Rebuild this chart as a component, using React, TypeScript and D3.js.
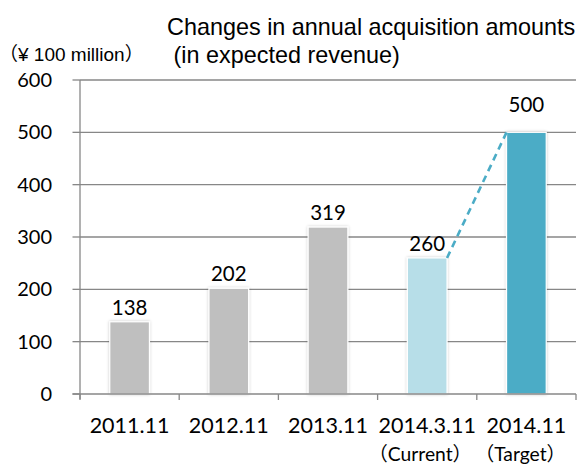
import React from "react";
import * as d3 from "d3";

const categories = ["2011.11", "2012.11", "2013.11", "2014.3.11", "2014.11"];
const subLabels = ["", "", "", "（Current）", "（Target）"];
const values = [138, 202, 319, 260, 500];
const barColors = ["#BFBFBF", "#BFBFBF", "#BFBFBF", "#B7DEE8", "#4BACC6"];
const yTicks = [0, 100, 200, 300, 400, 500, 600];
const titleLines = ["Changes in annual acquisition amounts", " (in expected revenue)"];
const unitLabel = "（¥ 100 million）";

const W = 585;
const H = 465;
const left = 80;
const right = 576;
const top = 80;
const bottom = 394;
const gridColor = "#878787";
const numFont = "Lato, 'Noto Sans CJK JP', sans-serif";
const textFont = "'Liberation Sans', Arial, 'Noto Sans CJK JP', sans-serif";

export default function App() {
  const x = d3
    .scaleBand<string>()
    .domain(categories)
    .range([left, right])
    .paddingInner(0.6)
    .paddingOuter(0.3);
  const y = d3.scaleLinear().domain([0, 600]).range([bottom, top]);
  const bw = x.bandwidth();

  const cur = categories[3];
  const tgt = categories[4];
  const lineGen = d3.line<[number, number]>();
  const connector = lineGen([
    [(x(cur) as number) + bw, y(values[3])],
    [x(tgt) as number, y(values[4])],
  ]);

  const boundaries = d3.range(categories.length + 1).map((i) => left + (i * (right - left)) / categories.length);
  const subIdx = subLabels.map((s, i) => i).filter((i) => subLabels[i]);

  return (
    <div style={{ position: "fixed", left: 0, top: 0 }}>
      <svg width={W} height={H} style={{ display: "block", background: "#fff" }}>
        <defs>
          <filter id="sh" x="-30%" y="-10%" width="160%" height="120%">
            <feDropShadow dx="0" dy="0" stdDeviation="1.6" floodColor="#000" floodOpacity="0.22" />
          </filter>
        </defs>
        <text x={167} y={35} fontFamily={textFont} fontSize={23.4} fill="#000">
          {titleLines[0]}
        </text>
        <text x={167} y={63} fontFamily={textFont} fontSize={23.4} fill="#000" style={{ whiteSpace: "pre" }}>
          {titleLines[1]}
        </text>
        <text x={-1} y={61} fontFamily={textFont} fontSize={19} fill="#000">
          {unitLabel}
        </text>

        {yTicks.map((t) => (
          <g key={t}>
            {t > 0 && <line x1={left} x2={right} y1={y(t)} y2={y(t)} stroke={gridColor} strokeWidth={1.3} />}
            <line x1={left - 7.5} x2={left} y1={y(t)} y2={y(t)} stroke={gridColor} strokeWidth={1.3} />
            <text x={52} y={y(t) + 7} textAnchor="end" fontFamily={numFont} fontSize={20} fill="#000">
              {t}
            </text>
          </g>
        ))}

        {categories.map((c, i) => (
          <rect
            key={c}
            x={x(c)}
            y={y(values[i])}
            width={bw}
            height={bottom - y(values[i])}
            fill={barColors[i]}
            stroke="#fff"
            strokeWidth={1.2}
            filter="url(#sh)"
          />
        ))}

        <path d={connector || ""} fill="none" stroke="#4BACC6" strokeWidth={2.6} strokeDasharray="7,5" />

        <line x1={left} x2={left} y1={top} y2={bottom + 5} stroke={gridColor} strokeWidth={1.3} />
        <line x1={left - 7.5} x2={right} y1={bottom} y2={bottom} stroke={gridColor} strokeWidth={1.3} />
        {boundaries.map((b, i) => (
          <line key={i} x1={b} x2={b} y1={bottom} y2={bottom + 6} stroke={gridColor} strokeWidth={1.3} />
        ))}

        {categories.map((c, i) => (
          <text
            key={c}
            x={(x(c) as number) + bw / 2}
            y={y(values[i]) - (i === categories.length - 1 ? 20 : 7)}
            textAnchor="middle"
            fontFamily={numFont}
            fontSize={20.5}
            fill="#000"
          >
            {values[i]}
          </text>
        ))}

        {categories.map((c) => (
          <text
            key={c}
            x={(x(c) as number) + bw / 2}
            y={433}
            textAnchor="middle"
            fontFamily={numFont}
            fontSize={21.5}
            fill="#000"
          >
            {c}
          </text>
        ))}
        {subIdx.map((i) => (
          <text
            key={i}
            x={(x(categories[i]) as number) + bw / 2 - (i === 3 ? 7 : 6)}
            y={461}
            textAnchor="middle"
            fontFamily={numFont}
            fontSize={19.3}
            fill="#000"
          >
            {subLabels[i]}
          </text>
        ))}
      </svg>
    </div>
  );
}
